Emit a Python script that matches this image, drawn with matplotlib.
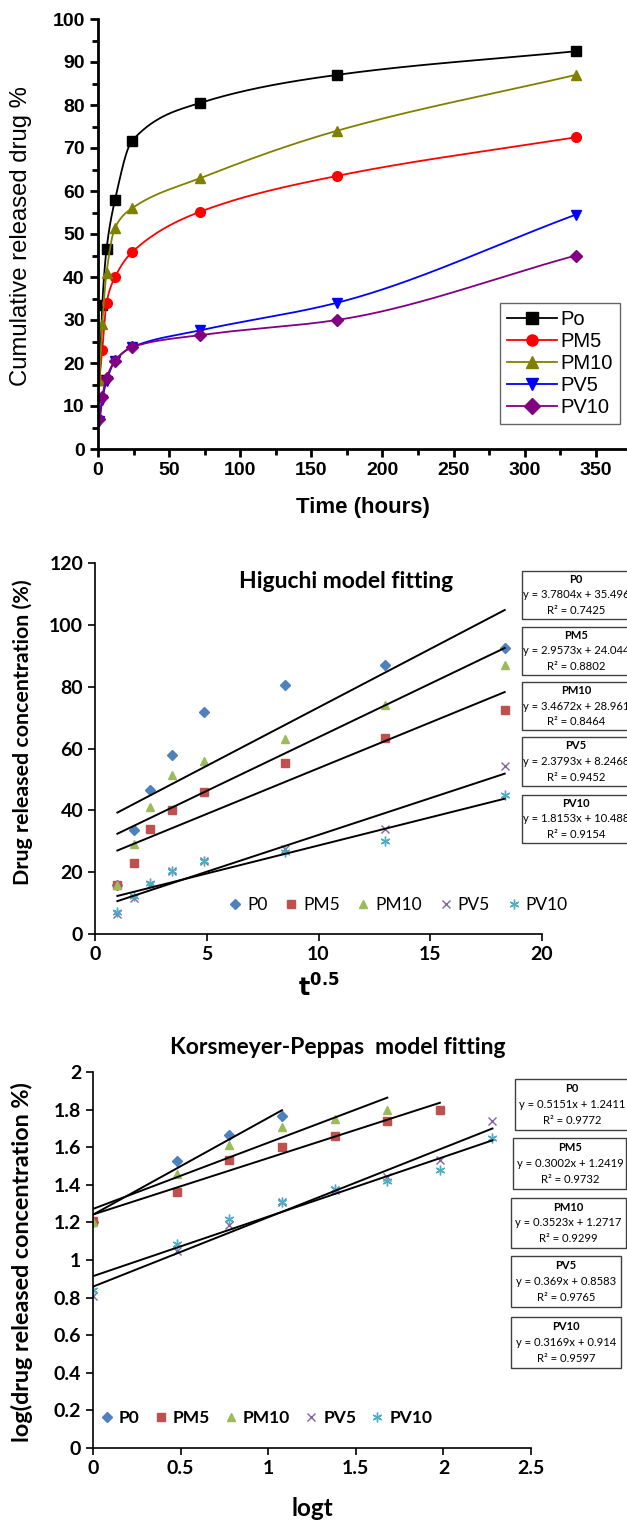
import numpy as np
import matplotlib
matplotlib.use('Agg')
import matplotlib.pyplot as plt
from matplotlib.patches import Rectangle
from matplotlib.ticker import MultipleLocator

# ---- data ----
hours = [1, 3, 6, 12, 24, 72, 168, 336]
names = ['P0', 'PM5', 'PM10', 'PV5', 'PV10']
top_names = ['Po', 'PM5', 'PM10', 'PV5', 'PV10']

rel_p0 = [16, 33.5, 46.5, 58, 71.7, 80.5, 87, 92.5]
rel_pm5 = [16, 23, 34, 40, 45.8, 55.2, 63.5, 72.5]
rel_pm10 = [16, 29, 41, 51.5, 56, 63, 74, 87]
rel_pv5 = [6.5, 11.5, 15.8, 20.5, 23.7, 27.6, 34, 54.5]
rel_pv10 = [7, 12.2, 16.5, 20.5, 23.7, 26.5, 30, 45]
release = [rel_p0, rel_pm5, rel_pm10, rel_pv5, rel_pv10]

higuchi_slope = [3.7804, 2.9573, 3.4672, 2.3793, 1.8153]
higuchi_icpt = [35.496, 24.044, 28.961, 8.2468, 10.488]
higuchi_r2 = [0.7425, 0.8802, 0.8464, 0.9452, 0.9154]

logt = [0, 0.477, 0.778, 1.079, 1.38, 1.68, 1.98, 2.28]
kp_p0 = [1.20, 1.525, 1.667, 1.765]
kp_pm5 = [1.21, 1.36, 1.53, 1.60, 1.66, 1.74, 1.80]
kp_pm10 = [1.20, 1.46, 1.61, 1.71, 1.75, 1.80]
kp_pv5 = [0.81, 1.05, 1.185, 1.31, 1.37, 1.44, 1.53, 1.74]
kp_pv10 = [0.84, 1.085, 1.22, 1.31, 1.38, 1.42, 1.48, 1.65]
kp_vals = [kp_p0, kp_pm5, kp_pm10, kp_pv5, kp_pv10]

kp_slope = [0.5151, 0.3002, 0.3523, 0.369, 0.3169]
kp_icpt = [1.2411, 1.2419, 1.2717, 0.8583, 0.914]
kp_r2 = [0.9772, 0.9732, 0.9299, 0.9765, 0.9597]

top_xticks = [0, 50, 100, 150, 200, 250, 300, 350]
top_yticks = [0, 10, 20, 30, 40, 50, 60, 70, 80, 90, 100]
hig_xticks = [0, 5, 10, 15, 20]
hig_yticks = [0, 20, 40, 60, 80, 100, 120]
kp_xticks = [0, 0.5, 1, 1.5, 2, 2.5]
kp_yticks = [0, 0.2, 0.4, 0.6, 0.8, 1, 1.2, 1.4, 1.6, 1.8, 2]

W, H = 627, 1520


def fx(px):
    return px / W


def fy(py):
    return 1 - py / H


def pchip(x, y, xs):
    x = np.asarray(x, float)
    y = np.asarray(y, float)
    h = np.diff(x)
    d = np.diff(y) / h
    m = np.zeros_like(y)
    for k in range(1, len(x) - 1):
        if d[k-1] * d[k] > 0:
            w1 = 2*h[k] + h[k-1]
            w2 = h[k] + 2*h[k-1]
            m[k] = (w1 + w2) / (w1/d[k-1] + w2/d[k])
    m[0] = d[0]
    m[-1] = d[-1]
    i = np.clip(np.searchsorted(x, xs) - 1, 0, len(h) - 1)
    t = (xs - x[i]) / h[i]
    h00 = 2*t**3 - 3*t**2 + 1
    h10 = t**3 - 2*t**2 + t
    h01 = -2*t**3 + 3*t**2
    h11 = t**3 - t**2
    return h00*y[i] + h10*h[i]*m[i] + h01*y[i+1] + h11*h[i]*m[i+1]


def set_ticks(ax, xt, yt, font, size):
    ax.set_xticks(xt, ['%g' % v for v in xt], family=font,
                  fontweight='bold', fontsize=size)
    ax.set_yticks(yt, ['%g' % v for v in yt], family=font,
                  fontweight='bold', fontsize=size)


def eq_box(fig, x0, x1, y0, y1, cx, name, s, b, r2, font):
    fig.add_artist(Rectangle((fx(x0), fy(y1)), fx(x1 - x0), (y1 - y0) / H,
                             transform=fig.transFigure, fill=False,
                             edgecolor='#404040', lw=1.0, clip_on=False))
    hh = (y1 - y0) / 3.0
    fig.text(fx(cx), fy(y0 + hh*0.55), name, ha='center', va='center',
             fontsize=8, fontweight='bold', family=font)
    fig.text(fx(cx), fy(y0 + hh*1.5), 'y = %gx + %g' % (s, b), ha='center',
             va='center', fontsize=8.1, family=font)
    fig.text(fx(cx), fy(y0 + hh*2.45), 'R² = %g' % r2, ha='center',
             va='center', fontsize=8.1, family=font)


fig = plt.figure(figsize=(W/100, H/100), dpi=100)

# ---------------- top: release profiles ----------------
arial = 'Liberation Sans'
ax1 = fig.add_axes([fx(98), fy(449), fx(627 - 98), (449 - 19) / H])
cols = ['black', '#ff0000', '#808000', '#0000ff', '#800080']
marks = ['s', 'o', '^', 'v', 'D']
tt = np.linspace(hours[0], hours[-1], 1500)
for vals, c, mk, nm in zip(release, cols, marks, top_names):
    ax1.plot(tt, pchip(hours, vals, tt), color=c, lw=1.3)
    ax1.plot(hours, vals, color=c, marker=mk, ms=7 if mk != 'D' else 6,
             ls='none')
    ax1.plot([], [], color=c, marker=mk, lw=1.3, ms=8, label=nm)
ax1.set_xlim(0, 372)
ax1.set_ylim(0, 100)
set_ticks(ax1, top_xticks, top_yticks, arial, 14)
ax1.xaxis.set_minor_locator(MultipleLocator(25))
ax1.yaxis.set_minor_locator(MultipleLocator(5))
for sp in ['top', 'right']:
    ax1.spines[sp].set_visible(False)
for sp in ['left', 'bottom']:
    ax1.spines[sp].set_linewidth(2)
ax1.tick_params(which='major', direction='out', length=6, width=2)
ax1.tick_params(which='minor', direction='out', length=4, width=2)
ax1.set_xlabel('Time (hours)', family=arial, fontweight='bold', fontsize=16)
ax1.xaxis.set_label_coords(0.5, -0.112)
ax1.set_ylabel('Cumulative released drug %', family=arial, fontsize=17.2)
ax1.yaxis.set_label_coords(-0.125, 0.495)
leg = ax1.legend(loc='upper left', bbox_to_anchor=(fx(500), fy(303)),
                 bbox_transform=fig.transFigure, fancybox=False,
                 prop={'family': arial, 'size': 14.5}, handlelength=2.5,
                 labelspacing=0.15, borderpad=0.35, handletextpad=0.15,
                 borderaxespad=0)
leg.get_frame().set_edgecolor('#404040')
leg.get_frame().set_linewidth(1.0)

# ---------------- middle: Higuchi ----------------
cal = 'Lato'
xl_cols = ['#4f81bd', '#c0504d', '#9bbb59', '#8064a2', '#4bacc6']
xl_marks = ['D', 's', '^', 'x', (6, 2, 0)]
xl_ms = [5, 6, 6, 6, 7]
root_t = np.sqrt(hours)

ax2 = fig.add_axes([fx(95), fy(934), fx(542 - 95), (934 - 563) / H])
for k in range(5):
    ax2.plot(root_t, release[k], ls='none', marker=xl_marks[k],
             color=xl_cols[k], ms=xl_ms[k], mew=1.0, label=names[k])
for k in range(5):
    xs = np.array([root_t[0], root_t[-1]])
    ax2.plot(xs, higuchi_slope[k]*xs + higuchi_icpt[k], color='black', lw=1.4)
ax2.set_xlim(0, 20)
ax2.set_ylim(0, 120)
set_ticks(ax2, hig_xticks, hig_yticks, cal, 14)
for sp in ['top', 'right']:
    ax2.spines[sp].set_visible(False)
for sp in ['left', 'bottom']:
    ax2.spines[sp].set_linewidth(1.2)
ax2.tick_params(direction='out', length=5, width=1.2)
ax2.set_xlabel(r'$\mathbf{t^{0.5}}$', fontsize=17)
ax2.xaxis.set_label_coords(0.5, -0.11)
ax2.set_ylabel('Drug released concentration (%)', family=cal,
               fontweight='bold', fontsize=15.4)
ax2.yaxis.set_label_coords(-0.139, 0.544)
fig.text(fx(346), fy(582), 'Higuchi model fitting', ha='center',
         va='center', family=cal, fontweight='bold', fontsize=16.5)
ax2.legend(loc='center', bbox_to_anchor=(fx(398), fy(905)),
           bbox_transform=fig.transFigure, ncol=5, frameon=False,
           prop={'family': cal, 'size': 12.5}, handlelength=0.8,
           handletextpad=0.3, columnspacing=0.95)
hig_boxes = [(571, 619), (627, 675), (682, 730), (737, 786), (795, 843)]
for k in range(5):
    y0, y1 = hig_boxes[k]
    eq_box(fig, 522, 640, y0, y1, 576, names[k], higuchi_slope[k],
           higuchi_icpt[k], higuchi_r2[k], cal)

# ---------------- bottom: Korsmeyer-Peppas ----------------
ax3 = fig.add_axes([fx(93), fy(1448), fx(531 - 93), (1448 - 1072) / H])
for k in range(5):
    xk = logt[:len(kp_vals[k])]
    ax3.plot(xk, kp_vals[k], ls='none', marker=xl_marks[k],
             color=xl_cols[k], ms=xl_ms[k], mew=1.0, label=names[k])
for k in range(5):
    xk = logt[:len(kp_vals[k])]
    xs = np.array([xk[0], xk[-1]])
    ax3.plot(xs, kp_slope[k]*xs + kp_icpt[k], color='black', lw=1.4)
ax3.set_xlim(0, 2.5)
ax3.set_ylim(0, 2)
set_ticks(ax3, kp_xticks, kp_yticks, cal, 14)
for sp in ['top', 'right']:
    ax3.spines[sp].set_visible(False)
for sp in ['left', 'bottom']:
    ax3.spines[sp].set_linewidth(1.2)
ax3.tick_params(direction='out', length=5, width=1.2)
ax3.set_xlabel('logt', family=cal, fontweight='bold', fontsize=17.5)
ax3.xaxis.set_label_coords(0.5, -0.13)
ax3.set_ylabel('log(drug released concentration %)', family=cal,
               fontweight='bold', fontsize=16.8)
ax3.yaxis.set_label_coords(-0.137, 0.495)
fig.text(fx(338), fy(1048), 'Korsmeyer-Peppas  model fitting', ha='center',
         va='center', family=cal, fontweight='bold', fontsize=16.5)
ax3.legend(loc='center', bbox_to_anchor=(fx(266), fy(1418)),
           bbox_transform=fig.transFigure, ncol=5, frameon=False,
           prop={'family': cal, 'size': 12.5, 'weight': 'bold'},
           handlelength=0.8, handletextpad=0.3, columnspacing=0.8)
kp_boxes = [(515, 640, 1079, 1130, 572), (513, 626, 1138, 1189, 570),
            (511, 626, 1198, 1248, 568), (511, 621, 1256, 1307, 566),
            (511, 621, 1317, 1368, 566)]
for k in range(5):
    x0, x1, y0, y1, cx = kp_boxes[k]
    eq_box(fig, x0, x1, y0, y1, cx, names[k], kp_slope[k], kp_icpt[k],
           kp_r2[k], cal)

fig.savefig('out.png', dpi=100)
